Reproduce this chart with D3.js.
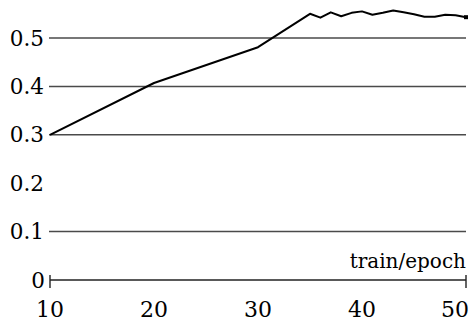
<!DOCTYPE html>
<html>
<head>
<meta charset="utf-8">
<script src="https://cdn.jsdelivr.net/npm/d3@7"></script>
<style>
  body { margin: 0; background: #fff; }
  svg { display: block; }
</style>
</head>
<body>
<div id="chart-container"></div>
<script>
const W = 471, H = 322;
const serif = "'DejaVu Serif', serif";

// data
const epochs = [10, 20, 30, 35, 36, 37, 38, 39, 40, 41, 42, 43, 44, 45, 46, 47, 48, 49, 50];
const accuracy = [0.300, 0.407, 0.481, 0.550, 0.542, 0.553, 0.545, 0.552, 0.555, 0.548, 0.552, 0.557, 0.553, 0.549, 0.544, 0.544, 0.548, 0.547, 0.543];
const gridValues = [0.1, 0.3, 0.4, 0.5];
const yTickValues = [0, 0.1, 0.2, 0.3, 0.4, 0.5];
const yTickLabels = ["0", "0.1", "0.2", "0.3", "0.4", "0.5"];
const xTickValues = [10, 20, 30, 40, 50];
const xTickLabels = ["10", "20", "30", "40", "50"];
const xEndTicks = [10, 50];
const xAxisName = "train/epoch";

const svg = d3.select("#chart-container")
    .append("svg")
    .attr("width", W)
    .attr("height", H)
    .attr("font-family", serif);

const xScale = d3.scaleLinear()
    .domain([10, 50])
    .range([50, 466]);

const yScale = d3.scaleLinear()
    .domain([0, 0.5])
    .range([280, 38]);

// gridlines (no line at 0.2 in the original)
svg.append("g")
    .selectAll("line")
    .data(gridValues)
    .join("line")
    .attr("x1", xScale(10) - 1)
    .attr("x2", xScale(50))
    .attr("y1", d => yScale(d))
    .attr("y2", d => yScale(d))
    .attr("stroke", "#4a4a4a")
    .attr("stroke-width", 1.5);

// x axis line with end ticks
svg.append("line")
    .attr("x1", xScale(10))
    .attr("x2", xScale(50))
    .attr("y1", yScale(0))
    .attr("y2", yScale(0))
    .attr("stroke", "#222")
    .attr("stroke-width", 1.5);

svg.append("g")
    .selectAll("line")
    .data(xEndTicks)
    .join("line")
    .attr("x1", d => xScale(d))
    .attr("x2", d => xScale(d))
    .attr("y1", yScale(0) - 5)
    .attr("y2", yScale(0) + 8)
    .attr("stroke", "#222")
    .attr("stroke-width", 1.4);

// y tick labels
svg.append("g")
    .selectAll("text")
    .data(yTickValues)
    .join("text")
    .attr("x", (d, i) => i === 0 ? 45 : 44)
    .attr("y", d => yScale(d))
    .attr("dy", "0.35em")
    .attr("text-anchor", "end")
    .style("font-size", "21.5px")
    .text((d, i) => yTickLabels[i]);

// x tick labels (last one kept inside the frame)
svg.append("g")
    .selectAll("text")
    .data(xTickValues)
    .join("text")
    .attr("x", (d, i) => i === xTickValues.length - 1 ? W - 2 : xScale(d))
    .attr("y", 317)
    .attr("text-anchor", (d, i) => i === xTickValues.length - 1 ? "end" : "middle")
    .style("font-size", "22px")
    .text((d, i) => xTickLabels[i]);

// axis name
svg.append("text")
    .attr("x", xScale(50))
    .attr("y", 268)
    .attr("text-anchor", "end")
    .style("font-size", "20px")
    .text(xAxisName);

// the series
const line = d3.line()
    .x((d, i) => xScale(epochs[i]))
    .y(d => yScale(d));

svg.append("path")
    .datum(accuracy)
    .attr("fill", "none")
    .attr("stroke", "#000")
    .attr("stroke-width", 2)
    .attr("stroke-linejoin", "round")
    .attr("d", line);

svg.append("rect")
    .attr("x", xScale(50) - 2)
    .attr("y", yScale(accuracy[accuracy.length - 1]) - 2)
    .attr("width", 4)
    .attr("height", 4)
    .attr("fill", "#000");
</script>
</body>
</html>
